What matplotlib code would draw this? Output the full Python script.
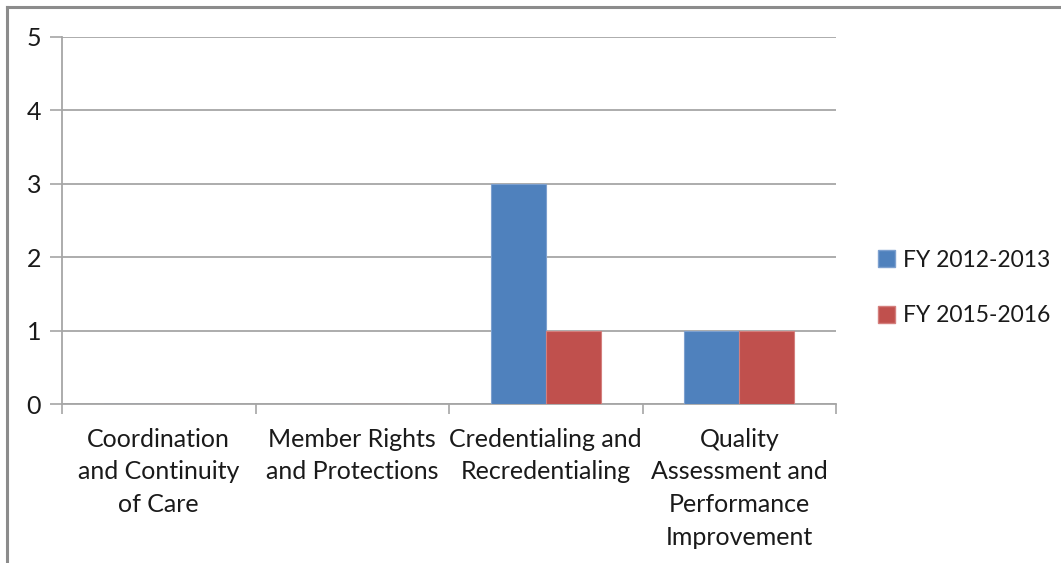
import numpy as np
import matplotlib
matplotlib.use("Agg")
import matplotlib.pyplot as plt
from matplotlib.lines import Line2D
from matplotlib.patches import Patch

plt.rcParams["font.family"] = ["Lato", "DejaVu Sans"]

# ------------------------------------------------
# Data
# ------------------------------------------------

categories = [
    "Coordination\nand Continuity\nof Care",
    "Member Rights\nand Protections",
    "Credentialing and\nRecredentialing",
    "Quality\nAssessment and\nPerformance\nImprovement",
]
fy_2012 = [0, 0, 3, 1]
fy_2016 = [0, 0, 1, 1]
series_names = ["FY 2012-2013", "FY 2015-2016"]

blue = "#4F81BD"
red = "#C0504D"
grid_gray = "#A6A6A6"
text_color = "#1A1A1A"

# ------------------------------------------------
# Figure
# ------------------------------------------------

fig = plt.figure(figsize=(10.61, 5.63), dpi=100)
ax = fig.add_axes([62 / 1061, 1 - 404 / 563, (836 - 62) / 1061, (404 - 37) / 563])

x = np.arange(len(categories))
width = 0.284

ax.bar(x - width / 2, fy_2012, width, color=blue, edgecolor="#7DA0CF", linewidth=0.8, zorder=3)
ax.bar(x + width / 2, fy_2016, width, color=red, edgecolor="#D47F7D", linewidth=0.8, zorder=3)

ax.set_xlim(-0.5, len(categories) - 0.5)
ax.set_ylim(0, 5)

# y axis
ax.set_yticks(range(0, 6))
ax.yaxis.grid(True, color=grid_gray, linewidth=1.3, zorder=0)
ax.tick_params(axis="y", length=9, width=1.2, color=grid_gray, labelsize=18,
               labelcolor=text_color, pad=6)

# x axis: labels at centers, tick marks at boundaries
ax.set_xticks(x)
ax.set_xticklabels(categories, linespacing=1.51)
ax.set_xticks(np.arange(-0.5, len(categories)), minor=True)
ax.tick_params(axis="x", which="major", length=0, labelsize=18,
               labelcolor=text_color, pad=17)
ax.tick_params(axis="x", which="minor", length=7, width=1.2, color=grid_gray)

for side in ["top", "right"]:
    ax.spines[side].set_visible(False)
for side in ["left", "bottom"]:
    ax.spines[side].set_color(grid_gray)
    ax.spines[side].set_linewidth(1.3)

# legend
handles = [Patch(facecolor=blue, edgecolor="#7DA0CF"), Patch(facecolor=red, edgecolor="#D47F7D")]
fig.legend(handles, series_names, loc="center left",
           bbox_to_anchor=(869 / 1061, 1 - 288 / 563),
           frameon=False, fontsize=16.5, labelcolor=text_color,
           handlelength=0.75, handleheight=0.75, handletextpad=0.35,
           labelspacing=1.5, borderaxespad=0)

# outer border (top and left edges visible)
fig.add_artist(Line2D([7 / 1061, 1], [1 - 7 / 563, 1 - 7 / 563], color="#8C8C8C", linewidth=2.2))
fig.add_artist(Line2D([7 / 1061, 7 / 1061], [0, 1 - 7 / 563], color="#8C8C8C", linewidth=2.2))

fig.savefig("out.png", dpi=100, facecolor="white")
